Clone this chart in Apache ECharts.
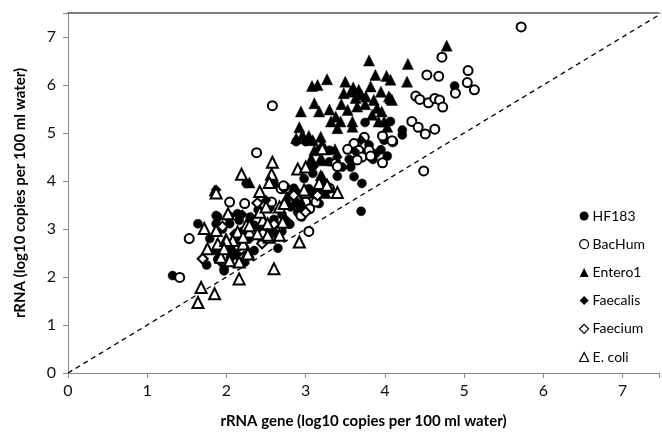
<!DOCTYPE html>
<html>
<head>
<meta charset="utf-8">
<script src="https://cdn.jsdelivr.net/npm/echarts@6/dist/echarts.min.js"></script>
<style>html,body{margin:0;padding:0;background:#fff}#c{width:662px;height:437px}</style>
</head>
<body>
<div id="c"></div>
<script>
var xTitle = 'rRNA gene (log10 copies per 100 ml water)';
var yTitle = 'rRNA (log10 copies per 100 ml water)';
var seriesNames = ['HF183', 'BacHum', 'Entero1', 'Faecalis', 'Faecium', 'E. coli'];
var refLine = [[0, 0], [7.5, 7.5]];

var hf183 = [[1.32,2.03],[1.64,3.11],[1.79,2.80],[1.89,3.25],[1.87,2.55],[1.97,2.17],[2.08,2.55],[2.14,2.45],[2.23,2.31],[2.14,3.32],[2.04,3.11],[2.16,3.18],[2.35,3.08],[2.42,2.94],[2.29,2.87],[2.54,2.97],[2.63,2.90],[2.79,3.67],[2.88,3.77],[2.81,3.46],[2.90,3.35],[2.96,3.46],[2.88,3.56],[3.11,3.73],[3.17,3.53],[2.25,3.95],[2.60,3.95],[1.87,3.28],[1.87,3.11],[1.89,2.37],[1.97,2.13],
  [4.88,5.98],[4.22,5.06],[4.22,4.96],[4.07,5.24],[3.99,4.85],[3.75,5.22],[3.65,4.68],[3.88,4.57],[3.46,4.29],[3.57,4.29],[3.61,4.09],[3.71,3.95],[3.67,4.54],[3.30,4.64],[3.17,4.64],[3.09,4.16],[2.98,4.05],[3.04,3.84],[3.17,3.81],[2.86,3.77],[2.88,4.82],[3.00,4.82],[4.03,4.52],[3.70,3.37],
  [2.70,3.30],[2.75,3.55],[2.50,3.10],[2.45,2.75],[2.65,2.60],[2.35,2.55],[2.20,2.70],[2.05,2.40],[1.75,2.25],[2.80,3.10],[3.00,3.60],[2.95,3.25],[2.70,2.95],[2.40,3.40],[2.85,3.85],[3.05,3.50],[3.40,4.10],[3.55,4.45],[3.80,4.75],[3.70,4.60],[3.85,4.45],[3.95,4.65],[3.30,4.40],[2.20,2.95],[1.95,3.00],[2.55,3.45],[2.60,3.20],[2.30,3.25]];

var bacHum = [[5.72,7.21],[4.72,6.58],[4.53,6.21],[4.68,6.18],[5.05,6.30],[5.04,6.05],[5.13,5.90],[4.89,5.83],[4.39,5.77],[4.44,5.70],[4.55,5.63],[4.63,5.72],[4.69,5.69],[4.73,5.54],[4.34,5.24],[4.42,5.12],[4.51,4.98],[4.63,5.08],[3.97,4.94],[4.10,4.82],[2.58,5.57],[4.49,4.21],[3.74,4.91],[4.09,4.84],[3.61,4.78],[3.53,4.66],[3.67,4.64],[3.80,4.64],[3.71,4.50],[3.82,4.52],[3.65,4.44],[3.38,4.37],[3.97,4.38],[2.69,3.84],[2.75,3.84],[2.04,3.56],[2.23,3.53],[1.53,2.80],[1.41,1.99],[2.94,3.28],[3.04,2.95],[2.65,3.04],[3.00,3.56],[2.73,3.88],[3.13,3.56],[2.03,3.26],[2.57,3.56],[2.72,3.90],[2.38,4.59],[3.25,3.87],[3.30,3.85],[2.15,2.65],[2.45,2.90],[3.05,3.42],[3.40,4.30]];

var entero1 = [[3.80,6.51],[4.29,6.44],[3.27,6.12],[3.15,6.00],[3.88,6.21],[4.02,6.19],[3.50,6.07],[4.28,6.07],[3.08,5.98],[2.94,5.45],[3.11,5.62],[3.17,5.45],[3.30,5.49],[3.38,5.34],[3.44,5.24],[3.59,5.24],[3.53,5.48],[3.48,5.83],[3.57,5.86],[3.67,5.90],[3.63,5.73],[3.76,5.76],[3.82,5.97],[3.95,5.86],[4.05,5.76],[4.09,5.69],[3.86,5.69],[3.90,5.52],[3.84,5.38],[3.92,5.24],[3.59,5.13],[2.92,5.12],[2.88,4.89],[2.96,4.96],[3.04,4.94],[3.09,4.85],[3.19,4.92],[3.21,4.78],[3.11,4.64],[3.37,4.66],[3.19,4.47],[3.07,4.47],[3.21,4.09],[3.99,5.24],[3.32,5.24],[4.78,6.82],[4.07,6.11],[4.07,5.72],[4.03,5.13],[3.07,4.37],[3.19,4.12],[3.70,5.80],[3.60,5.95],[3.45,5.60],[3.75,5.60],[3.96,5.45],[3.40,5.10],[3.65,5.55],[3.25,3.75],[2.95,3.55],[1.85,3.80],[2.29,3.97],[3.30,3.87],[3.21,4.43]];

var faecalis = [[1.87,3.82],[2.40,3.00],[2.90,3.50],[2.62,2.92],[3.62,4.62],[2.20,3.30],[3.20,3.90],[2.00,2.62],[1.92,2.32],[2.75,3.20],[3.10,4.30],[2.50,3.60],[3.40,4.50],[2.30,2.80],[3.70,4.85],[2.10,2.90]];

var faecium = [[1.70,2.38],[2.39,3.54],[2.22,2.42],[2.60,3.10],[2.12,2.88],[3.00,3.35],[2.85,3.70],[2.45,2.70],[1.95,3.05],[3.15,3.70]];

var eColi = [[1.87,3.75],[2.42,3.78],[3.00,3.77],[2.02,3.32],[1.72,3.01],[1.87,2.97],[1.76,2.59],[1.89,2.69],[1.93,2.41],[2.04,2.34],[1.99,2.76],[2.10,2.80],[2.18,2.80],[2.25,3.08],[2.29,2.94],[2.14,2.94],[2.21,2.69],[2.27,2.52],[2.16,2.31],[2.46,3.18],[2.52,3.11],[2.54,2.83],[2.67,2.87],[2.71,3.14],[2.42,3.35],[2.50,3.46],[2.92,2.73],[2.60,2.17],[2.16,1.96],[1.68,1.78],[1.85,1.65],[1.64,1.47],[2.19,4.14],[2.57,4.14],[2.27,2.48],[3.17,3.95],[2.98,3.81],[2.67,3.46],[2.73,3.53],[2.52,2.87],[2.39,2.90],[2.29,3.07],[2.21,2.83],[2.08,2.76],[2.00,2.76],[1.97,2.59],[2.58,4.39],[3.21,4.67],[2.90,4.25],[3.00,4.29],[2.54,3.97],[3.40,3.76],[3.27,3.91]];

var FONT = 'Lato, "Open Sans", sans-serif';
var chart = echarts.init(document.getElementById('c'), null, {renderer: 'canvas'});

function filled(sym, size) {
  return {symbol: sym, symbolSize: size, itemStyle: {color: '#000', borderColor: '#000', borderWidth: 0.5, opacity: 1}};
}
function open(sym, size) {
  return {symbol: sym, symbolSize: size, itemStyle: {color: '#fff', borderColor: '#000', borderWidth: 2, opacity: 1}};
}
var styles = [filled('circle', 9), open('circle', 9), filled('triangle', 11), filled('diamond', 10), open('diamond', 10), open('triangle', 11)];
var datas = [hf183, bacHum, entero1, faecalis, faecium, eColi];

var series = [{
  type: 'line', data: refLine, symbol: 'none', silent: true, z: 1,
  lineStyle: {color: '#000', width: 1.3, type: [5, 4]}, animation: false
}];
seriesNames.forEach(function (n, i) {
  var s = styles[i];
  series.push({
    name: n, type: 'scatter', data: datas[i], symbol: s.symbol, symbolSize: s.symbolSize,
    itemStyle: s.itemStyle, z: 2 + i, animation: false
  });
});

var openIdx = [1, 4, 5];
chart.setOption({
  backgroundColor: '#fff',
  animation: false,
  textStyle: {fontFamily: FONT},
  grid: {left: 68, right: 0, top: 13, bottom: 64, containLabel: false},
  legend: {
    orient: 'vertical', left: 574, top: 204, itemGap: 14.2,
    itemWidth: 9, itemHeight: 9,
    data: seriesNames.map(function (n, i) {
      var isOpen = openIdx.indexOf(i) >= 0;
      return {name: n, itemStyle: {borderWidth: isOpen ? 1.2 : 0}};
    }),
    textStyle: {fontFamily: FONT, fontSize: 14, color: '#000', padding: [0, 0, 0, -1]}
  },
  xAxis: [{
    type: 'value', min: 0, max: 7.46, interval: 1,
    name: xTitle, nameLocation: 'middle', nameGap: 41,
    nameTextStyle: {fontFamily: FONT, fontSize: 15, fontWeight: 'bold', color: '#000'},
    axisLine: {show: true, lineStyle: {color: '#888', width: 1}},
    axisTick: {show: true, inside: false, length: 5, lineStyle: {color: '#888'}},
    axisLabel: {fontFamily: FONT, fontSize: 16, color: '#111', margin: 10,
      formatter: function (v) { return v > 7 ? '' : String(v); }},
    splitLine: {show: false}
  }, {
    type: 'value', min: 0, max: 7.46, position: 'top',
    axisLine: {show: true, lineStyle: {color: '#555', width: 1.5}},
    axisTick: {show: false}, axisLabel: {show: false}, splitLine: {show: false}
  }],
  yAxis: {
    type: 'value', min: 0, max: 7.5, interval: 1,
    name: yTitle, nameLocation: 'middle', nameGap: 40, nameRotate: 90,
    nameTextStyle: {fontFamily: FONT, fontSize: 15, fontWeight: 'bold', color: '#000'},
    axisLine: {show: true, lineStyle: {color: '#888', width: 1}},
    axisTick: {show: true, inside: false, length: 5, lineStyle: {color: '#888'}},
    axisLabel: {fontFamily: FONT, fontSize: 16, color: '#111', margin: 12,
      formatter: function (v) { return v > 7 ? '' : String(v); }},
    splitLine: {show: false}
  },
  series: series
});
</script>
</body>
</html>
